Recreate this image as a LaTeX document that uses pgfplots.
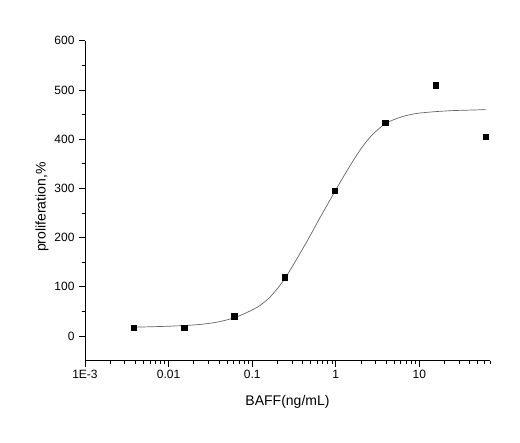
\documentclass[border=0pt]{standalone}
\usepackage{pgfplots}
\pgfplotsset{compat=1.18}
\usepackage{fontspec}
\setmainfont{Liberation Sans}

\begin{document}
\begin{tikzpicture}

\definecolor{fitgray}{rgb}{0.40,0.40,0.40}

% page = 520 x 443, plot area lower-left at (85, 360.7) px
\path[use as bounding box] (-85pt,-82.3pt) rectangle (435pt,360.7pt);

\begin{axis}[
at={(0,0)}, anchor=south west,
scale only axis,
width=405pt, height=320pt,
xmode=log,
xmin=0.001, xmax=70,
ymin=-50, ymax=600,
axis lines=left,
axis line style={-, line width=0.9pt, black},
xtick={0.001,0.01,0.1,1,10},
xticklabels={1E-3,0.01,0.1,1,10},
minor xtick={0.002,0.003,0.004,0.005,0.006,0.007,0.008,0.009,
  0.02,0.03,0.04,0.05,0.06,0.07,0.08,0.09,
  0.2,0.3,0.4,0.5,0.6,0.7,0.8,0.9,
  2,3,4,5,6,7,8,9,20,30,40,50,60,70},
ytick={0,100,200,300,400,500,600},
minor y tick num=1,
tick align=outside,
major tick length=6pt,
minor tick length=3.5pt,
every tick/.style={black, line width=0.8pt},
/pgf/number format/assume math mode=true,
tick label style={font=\fontsize{12}{14}\selectfont},
yticklabel style={xshift=-1pt},
label style={font=\fontsize{14}{16}\selectfont},
xlabel={BAFF(ng/mL)},
ylabel={proliferation,\%},
xlabel style={at={(axis description cs:0.5,-0.129)}, anchor=center},
ylabel style={at={(axis description cs:-0.106,0.48)}, anchor=center},
clip=false,
]
% fitted dose-response curve
\addplot [smooth, fitgray, line width=0.7pt]
table {%
0.0038 18
0.00631 19
0.01 20
0.01585 21.5
0.02512 24
0.03981 29
0.06310 38
0.1 53
0.1259 63
0.1585 77
0.1995 96
0.2512 119
0.3162 147
0.3981 176
0.5012 206
0.6310 237
0.7943 267
1 297
1.259 326
1.585 354
1.995 380
2.512 402
3.162 419
3.981 432
5.012 440
6.310 446
7.943 450
10 453
15.85 456
25.12 458
39.81 459
62.5 460
};
% measured points
\addplot [only marks, mark=square*, mark size=2.7pt, black]
table {%
0.00381 17
0.0153 17
0.061 40.6
0.244 120
0.977 294.7
3.906 434
15.625 510
62.5 404.5
};
\end{axis}

\end{tikzpicture}
\end{document}
